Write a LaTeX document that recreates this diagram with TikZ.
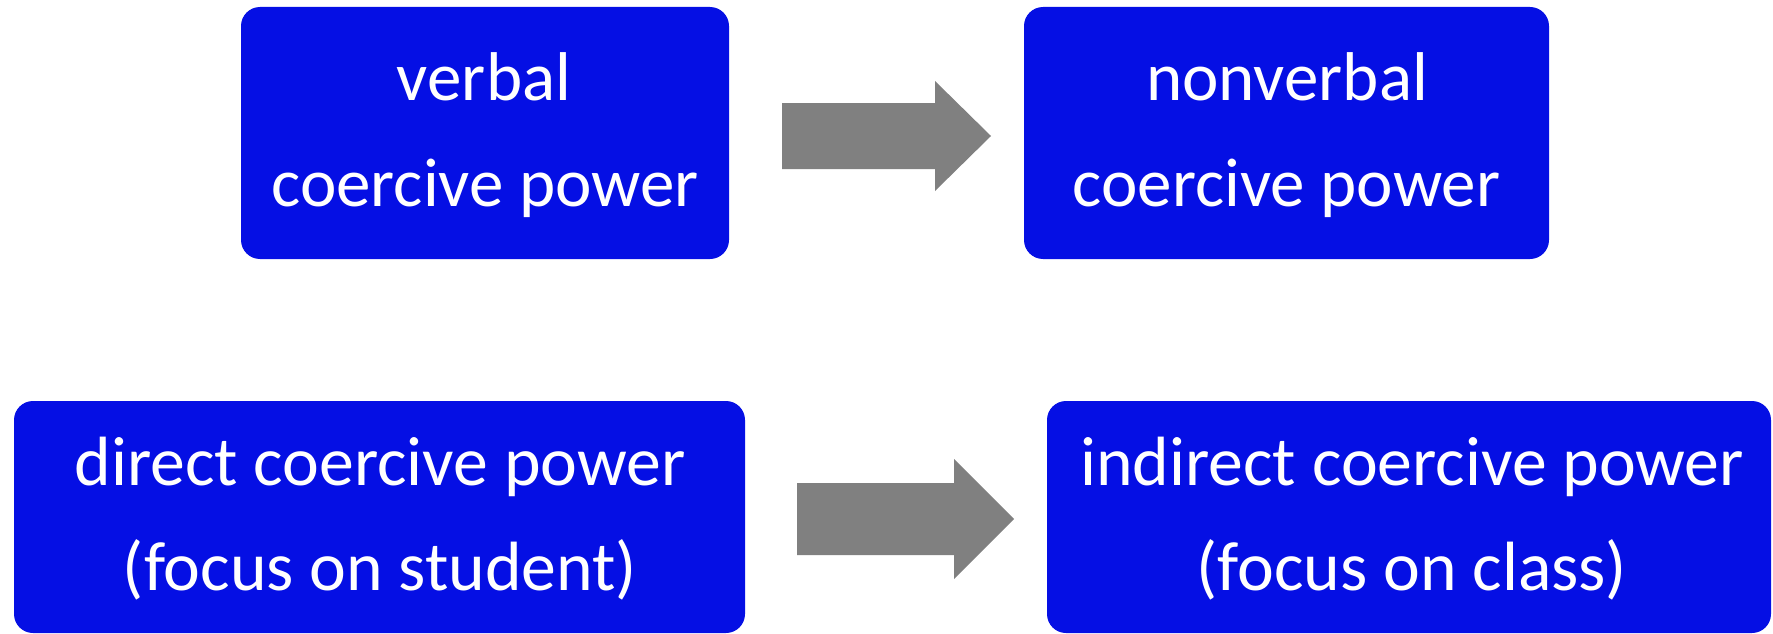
\documentclass[tikz,border=0pt]{standalone}
\usepackage{fontspec}
\setmainfont{Carlito}
\definecolor{boxblue}{RGB}{5,15,228}
\definecolor{arrowgray}{RGB}{128,128,128}
\tikzset{
  box/.style={fill=boxblue, draw=none, rounded corners=19pt, inner sep=0pt, outer sep=0pt},
  bigtext/.style={text=white, inner sep=0pt, anchor=base, font=\fontsize{69}{80}\selectfont},
  midtext/.style={text=white, inner sep=0pt, anchor=base, font=\fontsize{69.7}{80}\selectfont},
  blockarrow/.style={fill=arrowgray, draw=none}
}
\begin{document}
\begin{tikzpicture}[x=1pt,y=-1pt]
\useasboundingbox (0,0) rectangle (1773,634);
% boxes
\node[box, minimum width=488pt, minimum height=252pt] (b1) at (485,133) {};
\node[box, minimum width=525pt, minimum height=252pt] (b2) at (1286.5,133) {};
\node[box, minimum width=731pt, minimum height=232pt] (b3) at (379.5,517) {};
\node[box, minimum width=724pt, minimum height=232pt] (b4) at (1409,517) {};
% texts
\node[bigtext] (t1a) at (484,100) {verbal};
\node[bigtext] (t1b) at (485,206) {coercive power};
\node[bigtext] (t2a) at (1287,100) {nonverbal};
\node[bigtext] (t2b) at (1286.5,206) {coercive power};
\node[midtext] (t3a) at (380,485) {direct coercive power};
\node[midtext] (t3b) at (380,590) {(focus on student)};
\node[midtext] (t4a) at (1412,485) {indirect coercive power};
\node[midtext] (t4b) at (1412,590) {(focus on class)};
% block arrows
\fill[blockarrow] (782,103) -- (935,103) -- (935,81) -- (991,136) -- (935,191) -- (935,169) -- (782,169) -- cycle;
\fill[blockarrow] (797,483) -- (954,483) -- (954,459) -- (1014,519) -- (954,579) -- (954,555) -- (797,555) -- cycle;
\end{tikzpicture}
\end{document}
